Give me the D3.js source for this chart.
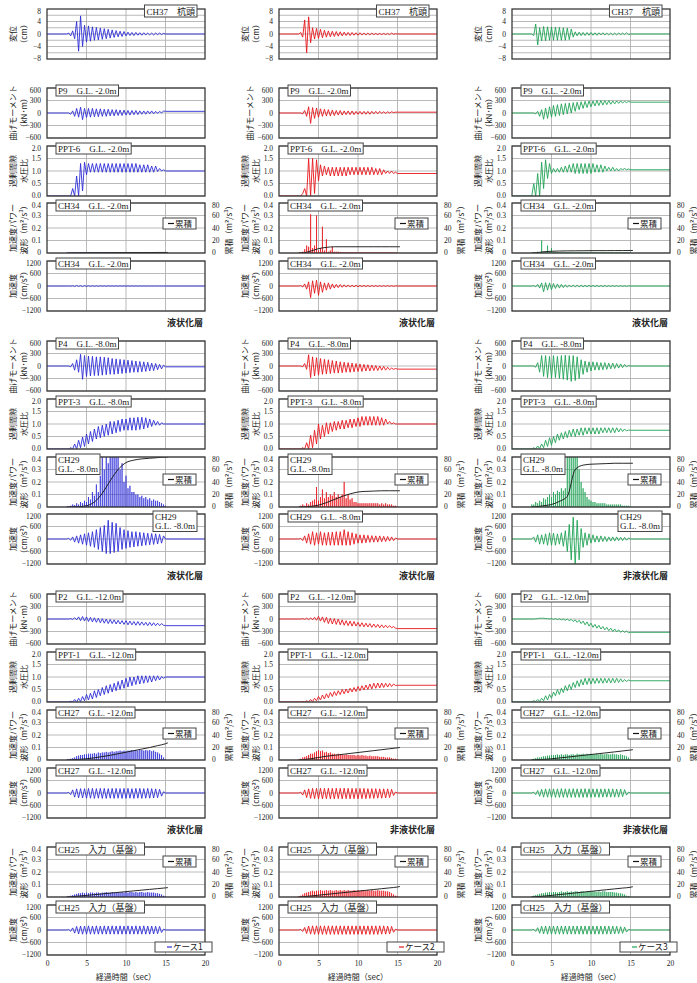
<!DOCTYPE html>
<html>
<head>
<meta charset="utf-8">
<script src="https://cdn.jsdelivr.net/npm/d3@7"></script>
<style>
  body { margin: 0; background: #fff; }
  svg text { font-family: "Liberation Serif", "Noto Sans CJK JP", serif; fill: #222; }
  .jp { font-family: "Noto Sans CJK JP", sans-serif; }
</style>
</head>
<body>
<svg id="chart" width="697" height="983"></svg>
<script>
// half-cycle peak times (sec) shared by every waveform
var tPeak = [2.5, 2.75, 3, 3.25, 3.5, 3.75, 4, 4.25, 4.5, 4.75,
  5, 5.25, 5.5, 5.75, 6, 6.25, 6.5, 6.75, 7, 7.25,
  7.5, 7.75, 8, 8.25, 8.5, 8.75, 9, 9.25, 9.5, 9.75,
  10, 10.25, 10.5, 10.75, 11, 11.25, 11.5, 11.75, 12, 12.25,
  12.5, 12.75, 13, 13.25, 13.5, 13.75, 14, 14.25, 14.5, 14.75, 15];
// times of the cumulative (累積) readings
var tCum = [2.5, 3, 4, 5, 6, 7, 8, 9, 10, 11, 12, 13, 14, 15, 15.3];

var xTicks = [0, 5, 10, 15, 20];
var xGrid = [5, 10, 15];
var dispTicks = [-8, -4, 0, 4, 8];
var dispGrid = [-6, -4, -2, 0, 2, 4, 6];
var momTicks = [-600, -300, 0, 300, 600];
var pptTicks = [0, 0.5, 1, 1.5, 2];
var powTicks = [0, 0.1, 0.2, 0.3, 0.4];
var cumTicks = [0, 20, 40, 60, 80];
var accTicks = [-1200, -600, 0, 600, 1200];

var caseNames = ['ケース1', 'ケース2', 'ケース3'];
var caseColors = ['#2e2ed8', '#e8161c', '#20a456'];
var layerNames = [
  ['液状化層', '液状化層', '液状化層'],
  ['液状化層', '液状化層', '非液状化層'],
  ['液状化層', '非液状化層', '非液状化層']
];

// CH37 杭頭 displacement (cm)
var disp1 = [0, 0.3, -0.6, 1.0, -1.5, 4.0, -5.5, 5.8, -4.0, 2.8,
  -2.6, 2.6, -2.3, 2.3, -2.0, 2.1, -1.9, 1.9, -1.7, 1.7,
  -1.5, 1.5, -1.3, 1.3, -1.1, 1.1, -0.9, 0.9, -0.8, 0.8,
  -0.6, 0.6, -0.5, 0.5, -0.5, 0.5, -0.4, 0.4, -0.4, 0.4,
  -0.3, 0.3, -0.3, 0.3, -0.3, 0.3, -0.2, 0.3, -0.2, 0.2, 0];
var disp2 = [0, 0.5, -1.0, 4.5, -6.0, 5.5, -2.8, 2.0, -1.6, 1.8,
  -1.4, 1.5, -1.2, 1.2, -1.0, 1.0, -0.9, 0.9, -0.8, 0.8,
  -0.7, 0.7, -0.6, 0.6, -0.5, 0.5, -0.5, 0.5, -0.4, 0.4,
  -0.4, 0.4, -0.3, 0.3, -0.3, 0.3, -0.3, 0.3, -0.2, 0.2,
  -0.2, 0.2, -0.2, 0.2, -0.2, 0.2, -0.2, 0.3, -0.1, 0.1, 0];
var disp3 = [0, -0.5, 3.2, -3.5, 2.0, -2.2, 2.4, -2.2, 2.3, -2.0,
  2.2, -2.0, 2.2, -2.0, 2.1, -2.0, 2.0, -2.0, 1.9, -1.8,
  1.6, -1.0, 0.7, -0.6, 0.6, -0.5, 0.5, -0.5, 0.5, -0.4,
  0.5, -0.4, 0.4, -0.4, 0.4, -0.3, 0.4, -0.3, 0.3, -0.3,
  0.3, -0.3, 0.3, -0.3, 0.3, -0.2, 0.3, -0.2, 0.4, -0.2, 0];

// P9 G.L.-2.0m bending moment (kN・m)
var mom9_1 = [0, 0, -30, 50, -80, 110, -100, 140, -160, 110,
  -110, 110, -100, 110, -90, 100, -90, 100, -80, 90,
  -80, 90, -70, 80, -70, 80, -60, 70, -60, 70,
  -50, 60, -50, 60, -40, 60, -40, 50, -30, 50,
  -30, 50, -20, 50, -20, 40, -10, 40, 0, 50, 40];
var mom9_2 = [0, 0, -20, 60, -80, 150, -250, 130, -130, 120,
  -100, 100, -80, 90, -70, 80, -70, 70, -60, 60,
  -50, 60, -50, 50, -40, 50, -40, 50, -40, 40,
  -30, 40, -30, 40, -30, 40, -30, 40, -20, 40,
  -20, 40, -10, 30, -10, 30, 0, 30, 10, 20, 20];
var mom9_3 = [0, 0, -20, 40, -80, 80, -150, 120, -130, 150,
  -100, 180, -80, 200, -60, 220, -40, 230, -20, 240,
  0, 250, 40, 260, 80, 270, 110, 280, 130, 290,
  150, 290, 170, 300, 180, 300, 190, 300, 200, 300,
  210, 290, 220, 290, 230, 290, 240, 280, 250, 280, 260];

// PPT-6 G.L.-2.0m excess pore pressure ratio
var ppt6_1 = [0, 0, 0, 0.3, 0, 0.8, 0, 1.3, 0.2, 1.35,
  0.85, 1.3, 0.95, 1.3, 0.95, 1.3, 0.95, 1.3, 0.95, 1.3,
  0.95, 1.3, 0.95, 1.3, 0.95, 1.3, 0.95, 1.3, 0.95, 1.3,
  0.95, 1.3, 0.95, 1.3, 0.95, 1.3, 0.95, 1.25, 0.95, 1.25,
  0.95, 1.25, 0.95, 1.2, 0.95, 1.2, 0.98, 1.1, 1.0, 1.05, 1.0];
var ppt6_2 = [0, 0, 0.1, 0.3, 0, 1.5, 0, 1.5, 0.1, 1.45,
  0.6, 1.25, 0.8, 1.2, 0.85, 1.15, 0.8, 1.15, 0.8, 1.15,
  0.8, 1.15, 0.8, 1.15, 0.8, 1.15, 0.85, 1.15, 0.85, 1.15,
  0.85, 1.15, 0.85, 1.15, 0.85, 1.15, 0.85, 1.15, 0.85, 1.1,
  0.85, 1.1, 0.85, 1.05, 0.9, 1.0, 0.9, 1.0, 0.9, 0.95, 0.9];
var ppt6_3 = [0, 0.5, 0, 0.9, 0, 1.35, 0.3, 1.45, 0.7, 1.3,
  0.9, 1.1, 0.95, 1.1, 0.95, 1.15, 0.95, 1.2, 0.95, 1.25,
  0.95, 1.3, 0.9, 1.3, 0.9, 1.3, 0.9, 1.3, 0.9, 1.3,
  0.9, 1.3, 0.95, 1.25, 0.95, 1.25, 0.95, 1.2, 1.0, 1.15,
  1.0, 1.15, 1.0, 1.1, 1.0, 1.1, 1.05, 1.1, 1.05, 1.08, 1.05];

// CH34 G.L.-2.0m acceleration power (m2/s3) and cumulative
var pow34_1 = [0, 0, 0.002, 0.003, 0.004, 0.005, 0.004, 0.005, 0.004, 0.004,
  0.003, 0.004, 0.003, 0.003, 0.003, 0.003, 0.003, 0.003, 0.002, 0.003,
  0.002, 0.002, 0.002, 0.002, 0.002, 0.002, 0.002, 0.002, 0.002, 0.002,
  0.002, 0.002, 0.002, 0.002, 0.002, 0.002, 0.002, 0.002, 0.002, 0.002,
  0.002, 0.002, 0.002, 0.002, 0.002, 0.002, 0.002, 0.002, 0.002, 0.001, 0.001];
var pow34_2 = [0, 0.005, 0.01, 0.03, 0.06, 0.05, 0.31, 0.04, 0.06, 0.3,
  0.02, 0.04, 0.21, 0.02, 0.11, 0.01, 0.02, 0.05, 0.01, 0.01,
  0.01, 0.008, 0.006, 0.005, 0.005, 0.004, 0.004, 0.004, 0.003, 0.003,
  0.003, 0.003, 0.003, 0.003, 0.002, 0.002, 0.002, 0.002, 0.002, 0.002,
  0.002, 0.002, 0.002, 0.002, 0.002, 0.002, 0.002, 0.002, 0.001, 0.001, 0.001];
var pow34_3 = [0, 0.003, 0.005, 0.01, 0.005, 0.1, 0.01, 0.008, 0.06, 0.01,
  0.04, 0.01, 0.008, 0.006, 0.005, 0.005, 0.004, 0.004, 0.004, 0.004,
  0.003, 0.003, 0.003, 0.003, 0.003, 0.003, 0.003, 0.003, 0.003, 0.003,
  0.003, 0.003, 0.003, 0.003, 0.003, 0.003, 0.003, 0.003, 0.003, 0.003,
  0.003, 0.003, 0.003, 0.003, 0.003, 0.003, 0.003, 0.003, 0.002, 0.002, 0.002];
var cum34_1 = [0, 0, 0.2, 0.4, 0.5, 0.6, 0.6, 0.7, 0.7, 0.8, 0.8, 0.8, 0.9, 0.9, 0.9];
var cum34_2 = [0, 0.2, 3, 7, 9, 10, 10, 10, 10, 10, 10, 10, 10, 10, 10];
var cum34_3 = [0, 0.3, 2, 2.8, 3.2, 3.4, 3.5, 3.6, 3.7, 3.8, 3.8, 3.9, 3.9, 4, 4];

// CH34 G.L.-2.0m acceleration (cm/s2)
var acc34_1 = [0, 5, -10, 15, -20, 25, -20, 20, -25, 20,
  -20, 15, -15, 15, -15, 12, -12, 12, -10, 10,
  -10, 10, -8, 8, -8, 8, -8, 8, -6, 6,
  -6, 6, -6, 6, -5, 5, -5, 5, -5, 5,
  -5, 5, -4, 4, -4, 4, -4, 4, -3, 3, 0];
var acc34_2 = [0, 20, -50, 100, -150, 200, -560, 250, -350, 280,
  -450, 200, -300, 150, -200, 150, -150, 100, -100, 80,
  -80, 70, -60, 60, -50, 50, -50, 40, -40, 40,
  -40, 30, -30, 30, -30, 30, -30, 25, -25, 25,
  -25, 20, -20, 20, -20, 20, -15, 15, -15, 10, 0];
var acc34_3 = [0, 20, -40, 80, -100, 150, -280, 160, -200, 150,
  -180, 120, -120, 100, -100, 80, -80, 60, -60, 50,
  -50, 50, -40, 40, -40, 40, -40, 35, -35, 35,
  -30, 30, -30, 30, -30, 25, -25, 25, -25, 20,
  -20, 20, -20, 20, -20, 15, -15, 15, -15, 10, 0];

// P4 G.L.-8.0m bending moment
var mom4_1 = [0, 0, -20, 60, -100, 150, -150, 280, -320, 250,
  -250, 240, -240, 230, -230, 220, -230, 220, -220, 210,
  -210, 200, -200, 180, -200, 170, -190, 160, -180, 150,
  -170, 140, -160, 130, -150, 120, -150, 110, -140, 100,
  -130, 90, -120, 70, -110, 60, -90, 40, -70, 20, -20];
var mom4_2 = [0, 0, -20, 60, -80, 270, -280, 220, -240, 200,
  -220, 180, -200, 160, -190, 150, -180, 130, -170, 120,
  -170, 100, -160, 90, -150, 80, -150, 70, -140, 60,
  -130, 50, -130, 40, -120, 30, -120, 20, -110, 10,
  -110, 0, -100, -10, -100, -30, -90, -50, -80, -60, -75];
var mom4_3 = [0, 0, -30, 80, -150, 250, -250, 250, -280, 230,
  -300, 250, -280, 230, -300, 250, -320, 260, -340, 250,
  -370, 250, -350, 220, -300, 150, -200, 120, -150, 100,
  -120, 100, -100, 90, -100, 80, -90, 80, -80, 70,
  -70, 70, -60, 60, -50, 50, -40, 40, -20, 10, 0];

// PPT-3 G.L.-8.0m
var ppt3_1 = [0, 0, 0.05, 0, 0.2, 0, 0.35, 0.05, 0.48, 0.1,
  0.6, 0.2, 0.7, 0.3, 0.8, 0.4, 0.9, 0.45, 0.95, 0.5,
  1.0, 0.55, 1.1, 0.6, 1.1, 0.65, 1.15, 0.7, 1.2, 0.75,
  1.2, 0.75, 1.25, 0.75, 1.25, 0.75, 1.27, 0.78, 1.27, 0.8,
  1.25, 0.85, 1.2, 0.9, 1.15, 0.95, 1.1, 0.95, 1.05, 1.0, 1.0];
var ppt3_2 = [0, 0, 0.05, 0, 0.25, 0, 0.55, 0.05, 0.75, 0.2,
  1.0, 0.4, 0.95, 0.5, 1.05, 0.6, 1.05, 0.7, 1.1, 0.75,
  1.1, 0.8, 1.15, 0.8, 1.15, 0.85, 1.2, 0.85, 1.2, 0.9,
  1.25, 0.9, 1.3, 0.95, 1.3, 0.95, 1.3, 0.95, 1.3, 0.95,
  1.3, 0.95, 1.25, 0.95, 1.2, 1.0, 1.1, 1.0, 1.05, 1.0, 1.0];
var ppt3_3 = [0, 0.05, 0, 0.12, 0.02, 0.2, 0.05, 0.35, 0.1, 0.45,
  0.15, 0.5, 0.25, 0.6, 0.35, 0.65, 0.4, 0.7, 0.45, 0.75,
  0.5, 0.8, 0.5, 0.8, 0.55, 0.85, 0.55, 0.85, 0.6, 0.85,
  0.6, 0.85, 0.6, 0.85, 0.6, 0.85, 0.65, 0.85, 0.65, 0.85,
  0.65, 0.85, 0.65, 0.85, 0.68, 0.82, 0.7, 0.8, 0.72, 0.76, 0.75];

// CH29 G.L.-8.0m power and cumulative
var pow29_1 = [0, 0.005, 0.01, 0.02, 0.015, 0.03, 0.02, 0.04, 0.03, 0.05,
  0.04, 0.08, 0.06, 0.12, 0.09, 0.18, 0.12, 0.25, 0.45, 0.3,
  0.5, 0.35, 0.6, 0.4, 0.55, 0.45, 0.5, 0.3, 0.35, 0.2,
  0.25, 0.15, 0.17, 0.12, 0.12, 0.1, 0.1, 0.08, 0.09, 0.07,
  0.08, 0.06, 0.07, 0.05, 0.06, 0.05, 0.05, 0.04, 0.03, 0.02, 0.01];
var pow29_2 = [0, 0.01, 0.02, 0.01, 0.03, 0.02, 0.04, 0.05, 0.06, 0.16,
  0.05, 0.08, 0.14, 0.07, 0.12, 0.08, 0.1, 0.09, 0.12, 0.08,
  0.1, 0.08, 0.1, 0.2, 0.07, 0.1, 0.06, 0.07, 0.04, 0.04,
  0.03, 0.03, 0.03, 0.03, 0.03, 0.03, 0.03, 0.03, 0.03, 0.03,
  0.03, 0.02, 0.03, 0.02, 0.03, 0.02, 0.02, 0.02, 0.01, 0.01, 0];
var pow29_3 = [0.02, 0.02, 0.04, 0.03, 0.05, 0.04, 0.07, 0.06, 0.08, 0.1,
  0.08, 0.12, 0.1, 0.13, 0.12, 0.15, 0.13, 0.15, 0.6, 0.5,
  0.7, 0.6, 0.5, 0.45, 0.3, 0.2, 0.15, 0.12, 0.08, 0.06,
  0.05, 0.04, 0.04, 0.03, 0.03, 0.03, 0.03, 0.03, 0.02, 0.02,
  0.02, 0.02, 0.02, 0.02, 0.02, 0.02, 0.01, 0.01, 0.01, 0.01, 0];
var cum29_1 = [0, 0, 0.5, 2, 8, 22, 42, 60, 71, 75, 77, 78, 79, 80, 80];
var cum29_2 = [0, 0.2, 1, 3, 7, 12, 17, 21, 24, 25, 25.5, 26, 26, 26, 26];
var cum29_3 = [0, 0.3, 2, 4, 9, 17, 60, 67, 68.5, 69, 69.5, 70, 70, 70, 70];

// CH29 G.L.-8.0m acceleration
var acc29_1 = [0, 30, -60, 100, -150, 150, -200, 200, -250, 250,
  -300, 300, -350, 350, -400, 450, -500, 550, -600, 650,
  -700, 900, -700, 800, -650, 750, -600, 550, -500, 450,
  -450, 400, -400, 350, -380, 350, -350, 320, -330, 300,
  -300, 280, -280, 260, -260, 250, -240, 220, -200, 150, 0];
var acc29_2 = [0, 30, -80, 150, -200, 250, -250, 350, -300, 300,
  -250, 350, -300, 300, -300, 320, -300, 330, -300, 350,
  -300, 350, -300, 450, -300, 350, -300, 300, -250, 250,
  -200, 200, -200, 200, -180, 180, -160, 160, -150, 150,
  -150, 150, -130, 130, -120, 120, -100, 100, -80, 50, 0];
var acc29_3 = [0, 100, -150, 200, -250, 200, -250, 250, -300, 300,
  -300, 280, -300, 250, -250, 300, -350, 400, -600, 700,
  -1000, 1050, -1300, 900, -1000, 500, -400, 300, -300, 250,
  -200, 200, -150, 150, -150, 150, -120, 120, -120, 100,
  -100, 100, -100, 100, -80, 80, -80, 80, -60, 50, 0];

// P2 G.L.-12.0m bending moment
var mom2_1 = [0, 0, 10, -10, 30, -20, 50, -40, 60, -50,
  50, -60, 40, -70, 30, -80, 20, -90, 10, -100,
  0, -110, -10, -110, -20, -120, -30, -120, -40, -130,
  -40, -140, -50, -140, -60, -150, -60, -150, -70, -150,
  -80, -160, -80, -160, -90, -160, -100, -160, -110, -150, -160];
var mom2_2 = [0, 0, 10, -10, 20, -20, 30, -20, 40, -30,
  60, -50, 50, -80, 40, -110, 20, -120, 10, -130,
  0, -140, -20, -150, -40, -160, -50, -170, -60, -170,
  -80, -180, -90, -190, -100, -190, -110, -200, -120, -200,
  -130, -210, -140, -210, -150, -210, -160, -210, -180, -220, -230];
var mom2_3 = [0, 0, 5, 10, 20, 15, 20, 10, 10, 0,
  10, -10, 10, -15, 5, -20, 0, -30, 0, -40,
  -10, -60, -20, -80, -30, -110, -50, -140, -70, -170,
  -100, -200, -130, -220, -150, -240, -180, -260, -200, -280,
  -220, -300, -240, -310, -260, -320, -280, -320, -290, -330, -320];

// PPT-1 G.L.-12.0m
var ppt1_1 = [0, 0, 0.03, 0, 0.1, 0, 0.15, 0.02, 0.22, 0.05,
  0.3, 0.08, 0.35, 0.12, 0.45, 0.18, 0.5, 0.25, 0.58, 0.3,
  0.65, 0.35, 0.7, 0.4, 0.75, 0.45, 0.82, 0.5, 0.88, 0.55,
  0.95, 0.6, 1.0, 0.65, 1.0, 0.7, 1.05, 0.72, 1.05, 0.75,
  1.05, 0.78, 1.05, 0.8, 1.05, 0.85, 1.05, 0.88, 1.02, 0.95, 1.0];
var ppt1_2 = [0, 0, 0.02, 0, 0.05, 0, 0.1, 0.02, 0.15, 0.05,
  0.22, 0.08, 0.28, 0.12, 0.33, 0.17, 0.38, 0.22, 0.42, 0.26,
  0.45, 0.3, 0.5, 0.33, 0.52, 0.36, 0.55, 0.4, 0.58, 0.42,
  0.62, 0.45, 0.65, 0.48, 0.68, 0.5, 0.72, 0.52, 0.75, 0.55,
  0.76, 0.56, 0.76, 0.58, 0.75, 0.6, 0.74, 0.62, 0.72, 0.66, 0.67];
var ppt1_3 = [0, 0.05, 0.02, 0.1, 0.03, 0.15, 0.05, 0.25, 0.08, 0.3,
  0.15, 0.4, 0.25, 0.5, 0.3, 0.55, 0.38, 0.65, 0.45, 0.7,
  0.5, 0.78, 0.58, 0.85, 0.62, 0.9, 0.68, 0.95, 0.7, 0.95,
  0.72, 0.95, 0.74, 0.95, 0.75, 0.95, 0.75, 0.95, 0.76, 0.95,
  0.76, 0.95, 0.77, 0.95, 0.78, 0.93, 0.8, 0.9, 0.82, 0.88, 0.85];

// CH27 G.L.-12.0m power and cumulative
var pow27_1 = [0, 0.005, 0.01, 0.015, 0.02, 0.03, 0.035, 0.04, 0.04, 0.045,
  0.045, 0.05, 0.05, 0.05, 0.055, 0.05, 0.06, 0.055, 0.06, 0.06,
  0.065, 0.06, 0.065, 0.07, 0.065, 0.07, 0.07, 0.075, 0.07, 0.075,
  0.07, 0.075, 0.075, 0.08, 0.075, 0.08, 0.075, 0.08, 0.08, 0.075,
  0.08, 0.075, 0.08, 0.07, 0.075, 0.065, 0.06, 0.05, 0.04, 0.02, 0.005];
var pow27_2 = [0.005, 0.01, 0.02, 0.025, 0.03, 0.04, 0.05, 0.05, 0.06, 0.07,
  0.08, 0.07, 0.075, 0.06, 0.065, 0.055, 0.06, 0.05, 0.05, 0.045,
  0.05, 0.045, 0.045, 0.04, 0.045, 0.04, 0.04, 0.04, 0.04, 0.035,
  0.04, 0.035, 0.04, 0.035, 0.035, 0.03, 0.035, 0.03, 0.03, 0.03,
  0.03, 0.025, 0.025, 0.025, 0.02, 0.02, 0.02, 0.015, 0.01, 0.01, 0.005];
var pow27_3 = [0.005, 0.01, 0.015, 0.02, 0.02, 0.025, 0.03, 0.03, 0.035, 0.035,
  0.04, 0.04, 0.04, 0.045, 0.04, 0.045, 0.04, 0.045, 0.045, 0.04,
  0.045, 0.045, 0.04, 0.05, 0.045, 0.045, 0.05, 0.045, 0.05, 0.045,
  0.05, 0.045, 0.045, 0.05, 0.045, 0.05, 0.045, 0.045, 0.05, 0.045,
  0.045, 0.05, 0.045, 0.045, 0.04, 0.045, 0.04, 0.035, 0.03, 0.02, 0.005];
var cum27_1 = [0, 0.2, 1, 2, 3.5, 5.5, 7.5, 10, 12.5, 15, 17.5, 20, 23, 26, 27.5];
var cum27_2 = [0, 0.5, 2, 4, 6, 7.5, 9, 10.5, 12, 13.5, 15, 16.5, 18, 19.5, 20];
var cum27_3 = [0, 0.3, 1, 2, 3.3, 4.6, 6, 7.4, 8.8, 10.2, 11.6, 13, 14.5, 16, 16.5];

// CH27 G.L.-12.0m acceleration
var acc27_1 = [0, 30, -80, 150, -200, 200, -230, 210, -240, 210,
  -250, 220, -250, 220, -260, 210, -250, 220, -260, 220,
  -260, 210, -250, 220, -260, 220, -250, 210, -260, 220,
  -260, 220, -250, 210, -260, 220, -250, 220, -260, 210,
  -250, 220, -250, 210, -240, 200, -230, 180, -150, 60, 0];
var acc27_2 = [0, 40, -100, 150, -220, 200, -260, 220, -270, 220,
  -280, 230, -280, 220, -270, 230, -280, 220, -280, 230,
  -270, 220, -280, 230, -270, 220, -280, 220, -270, 220,
  -280, 220, -270, 220, -270, 210, -260, 210, -260, 210,
  -250, 200, -250, 200, -240, 200, -220, 180, -120, 50, 0];
var acc27_3 = [0, 40, -80, 120, -160, 180, -200, 200, -200, 200,
  -210, 200, -210, 200, -210, 210, -210, 200, -210, 200,
  -210, 210, -210, 200, -210, 200, -210, 210, -210, 200,
  -210, 200, -200, 200, -210, 200, -200, 200, -200, 200,
  -200, 200, -200, 190, -200, 190, -180, 160, -100, 40, 0];

// CH25 入力(基盤) power and cumulative
var pow25_1 = [0, 0.005, 0.01, 0.015, 0.02, 0.025, 0.03, 0.03, 0.035, 0.03,
  0.035, 0.03, 0.035, 0.035, 0.03, 0.035, 0.035, 0.03, 0.035, 0.035,
  0.04, 0.035, 0.035, 0.04, 0.035, 0.035, 0.04, 0.035, 0.04, 0.035,
  0.04, 0.035, 0.04, 0.04, 0.035, 0.04, 0.035, 0.04, 0.04, 0.035,
  0.035, 0.04, 0.035, 0.035, 0.035, 0.03, 0.03, 0.025, 0.02, 0.01, 0.005];
var pow25_2 = [0.005, 0.01, 0.02, 0.03, 0.035, 0.04, 0.045, 0.05, 0.045, 0.05,
  0.05, 0.055, 0.05, 0.05, 0.055, 0.05, 0.055, 0.05, 0.05, 0.055,
  0.05, 0.055, 0.05, 0.055, 0.05, 0.055, 0.05, 0.05, 0.055, 0.05,
  0.055, 0.05, 0.055, 0.05, 0.05, 0.055, 0.05, 0.055, 0.05, 0.05,
  0.055, 0.05, 0.05, 0.05, 0.045, 0.045, 0.04, 0.03, 0.02, 0.01, 0.005];
var pow25_3 = [0.005, 0.01, 0.015, 0.02, 0.025, 0.03, 0.03, 0.035, 0.035, 0.04,
  0.035, 0.04, 0.04, 0.035, 0.04, 0.045, 0.04, 0.04, 0.045, 0.04,
  0.045, 0.04, 0.045, 0.045, 0.04, 0.045, 0.045, 0.04, 0.045, 0.045,
  0.04, 0.045, 0.045, 0.04, 0.045, 0.04, 0.045, 0.045, 0.04, 0.04,
  0.04, 0.04, 0.035, 0.035, 0.03, 0.03, 0.025, 0.02, 0.01, 0.005, 0];
var cum25_1 = [0, 0.4, 1.5, 2.6, 3.8, 5, 6.2, 7.4, 8.6, 9.8, 11, 12.2, 13.4, 14.6, 15];
var cum25_2 = [0, 0.4, 1.6, 2.9, 4.2, 5.5, 6.8, 8.1, 9.4, 10.7, 12, 13.3, 14.6, 16, 16.8];
var cum25_3 = [0, 0.3, 1.4, 2.6, 3.9, 5.2, 6.5, 7.8, 9.1, 10.4, 11.7, 13, 14.3, 15.6, 16.5];

// CH25 入力(基盤) acceleration
var acc25_1 = [0, 20, -60, 100, -150, 170, -190, 190, -200, 190,
  -200, 200, -200, 190, -200, 200, -200, 190, -200, 200,
  -200, 190, -200, 200, -200, 190, -200, 200, -200, 190,
  -200, 200, -200, 190, -200, 200, -200, 190, -200, 200,
  -200, 190, -200, 190, -190, 180, -180, 170, -120, 40, 0];
var acc25_2 = [0, 30, -70, 120, -170, 190, -200, 200, -210, 200,
  -210, 200, -210, 200, -210, 200, -210, 200, -210, 200,
  -210, 200, -210, 200, -210, 200, -210, 200, -210, 200,
  -210, 200, -210, 200, -210, 200, -210, 200, -210, 200,
  -210, 200, -200, 200, -200, 190, -190, 170, -110, 40, 0];
var acc25_3 = [0, 30, -70, 110, -160, 180, -190, 190, -200, 190,
  -200, 190, -200, 190, -200, 190, -200, 190, -200, 190,
  -200, 190, -200, 190, -200, 190, -200, 190, -200, 190,
  -200, 190, -200, 190, -200, 190, -200, 190, -200, 190,
  -200, 190, -190, 180, -180, 160, -160, 140, -100, 30, 0];

// ---- layout ----
var svg = d3.select('#chart');
var colLeft = [47, 279, 512];
var plotW = 158, plotH = 50;
var rowTop = [9, 88, 146, 203, 261, 341, 399, 457, 514, 594, 652, 710, 768, 847, 905];

var kinds = {
  disp: { domain: [-8, 8], ticks: dispTicks, grid: dispGrid, fmt: d3.format('d'), title: ['変位', '（cm）'] },
  moment: { domain: [-600, 600], ticks: momTicks, grid: momTicks, fmt: d3.format('d'), title: ['曲げモーメント', '（kN･m）'] },
  ppt: { domain: [0, 2], ticks: pptTicks, grid: pptTicks, fmt: d3.format('.1f'), title: ['過剰間隙', '水圧比'] },
  power: { domain: [0, 0.4], ticks: powTicks, grid: powTicks, fmt: function(d) { return d === 0 ? '0' : d3.format('.1f')(d); }, title: ['加速度パワー', '波形（m²/s³）'] },
  acc: { domain: [-1200, 1200], ticks: accTicks, grid: accTicks, fmt: d3.format('d'), title: ['加速度', '（cm/s²）'] }
};

var rows = [
  { kind: 'disp', data: [disp1, disp2, disp3], label: [['CH37　杭頭']], at: ['right'] },
  { kind: 'moment', data: [mom9_1, mom9_2, mom9_3], label: [['P9　G.L. -2.0m']], noUnit: [false, true, false] },
  { kind: 'ppt', data: [ppt6_1, ppt6_2, ppt6_3], label: [['PPT-6　G.L. -2.0m']] },
  { kind: 'power', data: [pow34_1, pow34_2, pow34_3], cum: [cum34_1, cum34_2, cum34_3], label: [['CH34　G.L. -2.0m']], legendY: 15 },
  { kind: 'acc', data: [acc34_1, acc34_2, acc34_3], label: [['CH34　G.L. -2.0m']], layer: 0 },
  { kind: 'moment', data: [mom4_1, mom4_2, mom4_3], label: [['P4　G.L. -8.0m']] },
  { kind: 'ppt', data: [ppt3_1, ppt3_2, ppt3_3], label: [['PPT-3　G.L. -8.0m']] },
  { kind: 'power', data: [pow29_1, pow29_2, pow29_3], cum: [cum29_1, cum29_2, cum29_3], label: [['CH29', 'G.L. -8.0m']], legendY: 17 },
  { kind: 'acc', data: [acc29_1, acc29_2, acc29_3],
    label: [['CH29', 'G.L. -8.0m'], ['CH29　G.L. -8.0m'], ['CH29', 'G.L. -8.0m']], at: ['right', 'left', 'right'], layer: 1 },
  { kind: 'moment', data: [mom2_1, mom2_2, mom2_3], label: [['P2　G.L. -12.0m']] },
  { kind: 'ppt', data: [ppt1_1, ppt1_2, ppt1_3], label: [['PPT-1　G.L. -12.0m']] },
  { kind: 'power', data: [pow27_1, pow27_2, pow27_3], cum: [cum27_1, cum27_2, cum27_3], label: [['CH27　G.L. -12.0m']], legendY: 18 },
  { kind: 'acc', data: [acc27_1, acc27_2, acc27_3], label: [['CH27　G.L. -12.0m']], layer: 2 },
  { kind: 'power', data: [pow25_1, pow25_2, pow25_3], cum: [cum25_1, cum25_2, cum25_3], label: [['CH25　入力（基盤）']], legendY: 9 },
  { kind: 'acc', data: [acc25_1, acc25_2, acc25_3], label: [['CH25　入力（基盤）']], caseLegend: true, xAxis: true }
];

var defs = svg.append('defs');

function styleAxis(g) {
  g.select('.domain').remove();
  g.attr('font-family', null).attr('font-size', null);
  g.selectAll('text').attr('font-size', 7.5).attr('fill', '#222');
}

// vertical axes: pull the end labels a little inside so stacked panels don't collide
function nudgeEnds(g, lo, hi) {
  g.selectAll('.tick text').attr('dy', function(d) {
    if (d === hi) return '0.62em';
    if (d === lo) return '0.2em';
    return '0.32em';
  });
}

// white box with one or two lines of text; anchored top-left or top-right of the plot
function labelBox(g, lines, left, right, top, at) {
  var box = g.append('g');
  var rect = box.append('rect');
  var txt = box.append('text').attr('font-size', 9);
  lines.forEach(function(s, i) {
    txt.append('tspan').attr('x', 0).attr('y', i * 9.5).text(s);
  });
  var bb = txt.node().getBBox();
  rect.attr('x', bb.x - 2).attr('y', bb.y - 0.5)
    .attr('width', bb.width + 4).attr('height', bb.height + 1)
    .attr('fill', '#fff').attr('stroke', '#444').attr('stroke-width', 1);
  var tx = at === 'right' ? right - 10 - bb.width : left + 11;
  box.attr('transform', 'translate(' + tx + ',' + (top + 5.5) + ')');
}

function drawPanel(r, c) {
  var row = rows[r], k = kinds[row.kind];
  var left = colLeft[c], right = left + plotW;
  var top = rowTop[r], bottom = top + plotH;
  var color = caseColors[c];
  var x = d3.scaleLinear().domain([0, 20]).range([left, right]);
  var y = d3.scaleLinear().domain(k.domain).range([bottom, top]);
  var g = svg.append('g');

  // grid
  g.selectAll('.hg').data(k.grid).enter().append('line')
    .attr('x1', left).attr('x2', right)
    .attr('y1', function(d) { return y(d); }).attr('y2', function(d) { return y(d); })
    .attr('stroke', '#a8a8a8').attr('stroke-width', 0.8);
  g.selectAll('.vg').data(xGrid).enter().append('line')
    .attr('x1', function(d) { return x(d); }).attr('x2', function(d) { return x(d); })
    .attr('y1', top).attr('y2', bottom)
    .attr('stroke', '#a8a8a8').attr('stroke-width', 0.8);

  var clipId = 'clip' + r + '_' + c;
  defs.append('clipPath').attr('id', clipId).append('rect')
    .attr('x', left).attr('y', top).attr('width', plotW).attr('height', plotH);
  var plot = g.append('g').attr('clip-path', 'url(#' + clipId + ')');
  var vals = row.data[c];
  var line = d3.line().x(function(d) { return x(d[0]); }).y(function(d) { return y(d[1]); });

  if (row.kind === 'power') {
    // stems at each half-cycle
    var stems = [];
    tPeak.forEach(function(t, i) { stems.push([t, 0], [t, vals[i]], [t, 0]); });
    plot.append('path').attr('d', line(stems))
      .attr('fill', 'none').attr('stroke', color).attr('stroke-width', 0.7);
    var yc = d3.scaleLinear().domain([0, 80]).range([bottom, top]);
    var cumLine = d3.line().curve(d3.curveMonotoneX)
      .x(function(d, i) { return x(tCum[i]); }).y(function(d) { return yc(d); });
    plot.append('path').attr('d', cumLine(row.cum[c]))
      .attr('fill', 'none').attr('stroke', '#111').attr('stroke-width', 0.9);
    g.append('g').attr('transform', 'translate(' + right + ',0)')
      .call(d3.axisRight(yc).tickValues(cumTicks).tickSize(0).tickPadding(7))
      .call(styleAxis)
      .call(nudgeEnds, 0, 80);
    g.append('text').attr('class', 'jp').attr('font-size', 8)
      .attr('transform', 'translate(' + (right + 23) + ',' + (top + plotH / 2) + ') rotate(-90)')
      .attr('text-anchor', 'middle').attr('dominant-baseline', 'central')
      .text('累積（m²/s³）');
    // 累積 legend box
    var lg = g.append('g').attr('transform', 'translate(' + (right - 42) + ',' + (top + row.legendY) + ')');
    lg.append('rect').attr('width', 33).attr('height', 11)
      .attr('fill', '#fff').attr('stroke', '#444').attr('stroke-width', 1);
    lg.append('line').attr('x1', 5).attr('x2', 11).attr('y1', 5.5).attr('y2', 5.5)
      .attr('stroke', '#111').attr('stroke-width', 1.2);
    lg.append('text').attr('class', 'jp').attr('x', 12).attr('y', 8.5).attr('font-size', 8.5).text('累積');
  } else {
    var pts = [[0, vals[0]]];
    tPeak.forEach(function(t, i) { pts.push([t, vals[i]]); });
    pts.push([20, vals[vals.length - 1]]);
    plot.append('path').attr('d', line(pts))
      .attr('fill', 'none').attr('stroke', color).attr('stroke-width', 0.9);
  }

  // frame
  g.append('rect').attr('x', left).attr('y', top).attr('width', plotW).attr('height', plotH)
    .attr('fill', 'none').attr('stroke', '#3a3a3a').attr('stroke-width', 1.3);

  // left axis
  g.append('g').attr('transform', 'translate(' + left + ',0)')
    .call(d3.axisLeft(y).tickValues(k.ticks).tickSize(0).tickPadding(6).tickFormat(k.fmt))
    .call(styleAxis)
    .call(nudgeEnds, k.domain[0], k.domain[1]);

  // left titles
  var t1 = k.title[0], t2 = (row.noUnit && row.noUnit[c]) ? null : k.title[1];
  g.append('text').attr('class', 'jp').attr('font-size', 8)
    .attr('transform', 'translate(' + (left - (t2 ? 35 : 30)) + ',' + (top + plotH / 2) + ') rotate(-90)')
    .attr('text-anchor', 'middle').attr('dominant-baseline', 'central').text(t1);
  if (t2) {
    g.append('text').attr('class', 'jp').attr('font-size', 8)
      .attr('transform', 'translate(' + (left - 24) + ',' + (top + plotH / 2) + ') rotate(-90)')
      .attr('text-anchor', 'middle').attr('dominant-baseline', 'central').text(t2);
  }

  // name box
  var lab = row.label.length > 1 ? row.label[c] : row.label[0];
  var at = row.at ? row.at[row.at.length > 1 ? c : 0] : 'left';
  labelBox(g, lab, left, right, top, at);

  if (row.layer !== undefined) {
    g.append('text').attr('class', 'jp').attr('font-size', 9).attr('font-weight', 'bold')
      .attr('x', right - 2).attr('y', bottom + 15).attr('text-anchor', 'end')
      .text(layerNames[row.layer][c]);
  }

  if (row.caseLegend) {
    var cg = g.append('g').attr('transform', 'translate(' + (right - 50) + ',' + (bottom - 13) + ')');
    cg.append('rect').attr('width', 57).attr('height', 10)
      .attr('fill', '#fff').attr('stroke', '#444').attr('stroke-width', 1);
    cg.append('line').attr('x1', 12).attr('x2', 17).attr('y1', 5).attr('y2', 5)
      .attr('stroke', color).attr('stroke-width', 1.2);
    cg.append('text').attr('class', 'jp').attr('x', 18).attr('y', 8).attr('font-size', 8.5).text(caseNames[c]);
  }

  if (row.xAxis) {
    g.append('g').attr('transform', 'translate(0,' + bottom + ')')
      .call(d3.axisBottom(x).tickValues(xTicks).tickSize(0).tickPadding(6).tickFormat(d3.format('d')))
      .call(styleAxis);
    g.append('text').attr('class', 'jp').attr('font-size', 8)
      .attr('x', (left + right) / 2).attr('y', bottom + 25).attr('text-anchor', 'middle')
      .text('経過時間（sec）');
  }
}

for (var r = 0; r < rows.length; r++) {
  for (var c = 0; c < 3; c++) {
    drawPanel(r, c);
  }
}
</script>
</body>
</html>
